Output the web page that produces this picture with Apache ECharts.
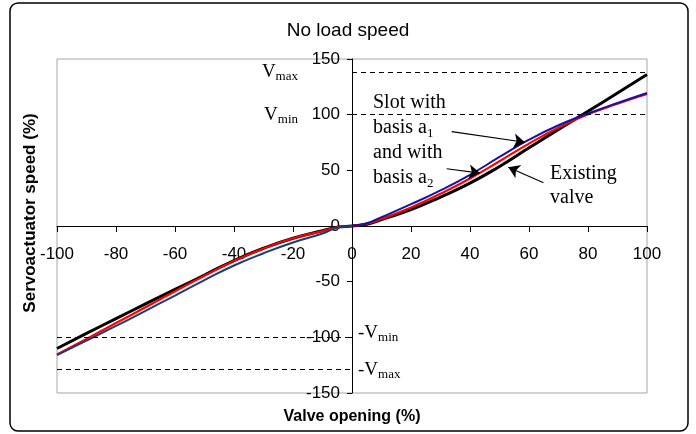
<!DOCTYPE html>
<html>
<head>
<meta charset="utf-8">
<script src="https://cdn.jsdelivr.net/npm/echarts@6/dist/echarts.min.js"></script>
<style>
  html, body { margin: 0; padding: 0; background: #fff; }
  #main { width: 696px; height: 434px; }
</style>
</head>
<body>
<div id="main"></div>
<script>
// valve opening (%)
const xValues = [-100, -90, -80, -70, -60, -50, -40, -30, -20, -10, -5, 0, 5, 10, 20, 30, 40, 50, 60, 70, 80, 90, 100];
// servoactuator speed (%)
const existingValve = [-110, -96.5, -83.2, -70, -57, -44, -31, -20, -11, -4.2, -1, 0, 1.5, 5.7, 14.7, 26, 38.5, 53.5, 70.2, 86.8, 103, 119.5, 136];
const slotBasisA1 = [-116, -103, -89.8, -76.2, -62.5, -48.6, -35.5, -24.5, -14.8, -6.8, -1.5, 0, 2.5, 8, 19.6, 32, 46, 62, 77.5, 90.5, 101, 110.5, 119.5];
const slotBasisA2 = [-115.5, -101.5, -87.2, -73, -58.6, -44.6, -31.5, -20.2, -11, -4.5, -1.2, 0, 2, 6.4, 16.6, 29, 42.7, 58.2, 74, 88.3, 100.3, 109.8, 118.5];

// speed limits
const vmax = 138, vmin = 100, negVmin = -100, negVmax = -129;

// annotation arrows (data coords)
const arrowFrom = [[33.8, 84.8], [32.1, 51.4], [64.9, 38.9]];
const arrowTo = [[58.6, 75.2], [43.4, 47.5], [53.0, 52.8]];

const font = 'Liberation Sans';
const serif = 'Liberation Serif';

function pairs(ys) {
  return xValues.map((x, i) => [x, ys[i]]);
}

const dash = { type: [5, 4], color: '#000', width: 1 };
const subRich = {
  v: { fontFamily: serif, fontSize: 19, lineHeight: 22, color: '#000' },
  s: { fontFamily: serif, fontSize: 13, lineHeight: 14, verticalAlign: 'bottom', color: '#000' }
};

let markData = [
  [{ coord: [0, vmax], symbol: 'none', lineStyle: dash, label: { show: true, position: 'start', distance: 54, formatter: '{v|V}{s|max}', rich: subRich } },
   { coord: [100, vmax], symbol: 'none' }],
  [{ coord: [0, vmin], symbol: 'none', lineStyle: dash, label: { show: true, position: 'start', distance: 54, formatter: '{v|V}{s|min}', rich: subRich } },
   { coord: [100, vmin], symbol: 'none' }],
  [{ coord: [-100, negVmin], symbol: 'none', lineStyle: dash, label: { show: true, position: 'end', distance: 6, offset: [0, -4], formatter: '{v|-V}{s|min}', rich: subRich } },
   { coord: [0, negVmin], symbol: 'none' }],
  [{ coord: [-100, negVmax], symbol: 'none', lineStyle: dash, label: { show: true, position: 'end', distance: 6, offset: [0, 0], formatter: '{v|-V}{s|max}', rich: subRich } },
   { coord: [0, negVmax], symbol: 'none' }]
];
arrowFrom.forEach((p, i) => {
  markData.push([
    { coord: p, symbol: 'none', lineStyle: { type: 'solid', color: '#000', width: 1.2 }, label: { show: false } },
    { coord: arrowTo[i], symbol: 'arrow' }
  ]);
});

// navy on the negative side, dark blue on the positive side
const blueStroke = new echarts.graphic.LinearGradient(0, 0, 1, 0, [
  { offset: 0, color: '#1b3c78' },
  { offset: 0.5, color: '#1b3c78' },
  { offset: 0.5, color: '#14149e' },
  { offset: 1, color: '#14149e' }
]);

let myChart = echarts.init(document.getElementById('main'));
let option = {
  animation: false,
  title: {
    text: 'No load speed',
    left: 'center',
    top: 16,
    textStyle: { fontFamily: font, fontSize: 19, fontWeight: 'normal', color: '#000' }
  },
  grid: {
    left: 57, right: 49, top: 59, bottom: 41,
    show: true, borderColor: '#a6a6a6', borderWidth: 1
  },
  xAxis: {
    type: 'value', min: -100, max: 100, interval: 20,
    position: 'bottom', offset: -167,
    axisLine: { onZero: false, lineStyle: { color: '#000', width: 1 } },
    axisTick: { length: 6, lineStyle: { color: '#000' } },
    axisLabel: { margin: 20, fontSize: 17, fontFamily: font, color: '#000' },
    splitLine: { show: false }
  },
  yAxis: {
    type: 'value', min: -150, max: 150, interval: 50,
    position: 'left', offset: -295,
    axisLine: { onZero: false, lineStyle: { color: '#000', width: 1 } },
    axisTick: { length: 5, lineStyle: { color: '#000' } },
    axisLabel: { margin: 12, fontSize: 17, fontFamily: font, color: '#000' },
    splitLine: { show: false }
  },
  series: [
    {
      name: 'Existing valve', type: 'line', data: pairs(existingValve),
      smooth: true, showSymbol: false, z: 2,
      lineStyle: { color: '#000', width: 3 },
      markLine: { silent: true, symbolSize: 11, animation: false, data: markData }
    },
    {
      name: 'Slot with basis a2', type: 'line', data: pairs(slotBasisA2),
      smooth: true, showSymbol: false, z: 3,
      lineStyle: { color: '#ff0000', width: 2.2 }
    },
    {
      name: 'Slot with basis a1', type: 'line', data: pairs(slotBasisA1),
      smooth: true, showSymbol: false, z: 4,
      lineStyle: { color: blueStroke, width: 2 }
    }
  ],
  graphic: [
    {
      type: 'rect', z: -10, silent: true,
      shape: { x: 10, y: 3, width: 678, height: 428, r: 8 },
      style: { fill: 'none', stroke: '#000', lineWidth: 1.5 }
    },
    {
      type: 'text', x: 30, y: 213, rotation: Math.PI / 2,
      style: { text: 'Servoactuator speed (%)', font: 'bold 17px "Liberation Sans"', fill: '#000', align: 'center', verticalAlign: 'middle' }
    },
    {
      type: 'text', x: 352, y: 417,
      style: { text: 'Valve opening (%)', font: 'bold 16px "Liberation Sans"', fill: '#000', align: 'center', verticalAlign: 'middle' }
    },
    {
      type: 'text', x: 373, y: 90,
      style: {
        text: 'Slot with\nbasis a{s|1}\nand with\nbasis a{s|2}',
        fontFamily: serif, fontSize: 20, lineHeight: 25, fill: '#000',
        rich: { s: { fontFamily: serif, fontSize: 13, lineHeight: 14, verticalAlign: 'bottom' } }
      }
    },
    {
      type: 'text', x: 550, y: 162,
      style: { text: 'Existing\nvalve', fontFamily: serif, fontSize: 20, lineHeight: 24, fill: '#000' }
    }
  ]
};
myChart.setOption(option);
</script>
</body>
</html>
